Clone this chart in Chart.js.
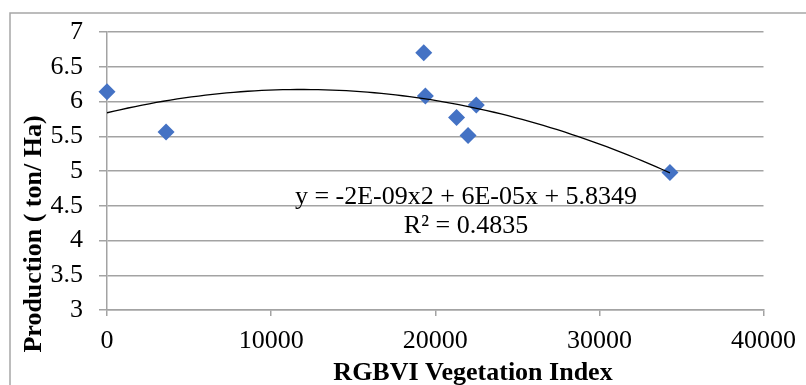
<!DOCTYPE html>
<html>
<head>
<meta charset="utf-8">
<script src="https://cdn.jsdelivr.net/npm/chart.js@4"></script>
<style>
  html, body { margin: 0; padding: 0; background: #fff; }
  #wrap { width: 806px; height: 385px; position: relative; }
</style>
</head>
<body>
<div id="wrap"><canvas id="chart"></canvas></div>
<script>
// values
const indexValues = [0, 3600, 19300, 19400, 21300, 22500, 22000, 34300];
const productionValues = [6.14, 5.56, 6.70, 6.08, 5.77, 5.95, 5.51, 4.98];
const xTicks = [0, 10000, 20000, 30000, 40000];
const yTicks = [3, 3.5, 4, 4.5, 5, 5.5, 6, 6.5, 7];
const xTitle = "RGBVI Vegetation Index";
const yTitle = "Production ( ton/ Ha)";
const equationLines = ["y = -2E-09x2 + 6E-05x + 5.8349", "R² = 0.4835"];

const SERIF = '"Liberation Serif", "Times New Roman", serif';
const GRID = "#a3a3a3";

// least squares quadratic, the same fit Excel uses for its trendline
function quadFit(xs, ys) {
  const k = 1e-4; // scale x to keep the sums small
  const s = [0, 0, 0, 0, 0];
  const t = [0, 0, 0];
  xs.forEach((x0, i) => {
    const x = x0 * k;
    for (let p = 0; p < 5; p++) s[p] += Math.pow(x, p);
    for (let p = 0; p < 3; p++) t[p] += Math.pow(x, p) * ys[i];
  });
  const m = [
    [s[0], s[1], s[2]],
    [s[1], s[2], s[3]],
    [s[2], s[3], s[4]],
  ];
  const det = (a) =>
    a[0][0] * (a[1][1] * a[2][2] - a[1][2] * a[2][1]) -
    a[0][1] * (a[1][0] * a[2][2] - a[1][2] * a[2][0]) +
    a[0][2] * (a[1][0] * a[2][1] - a[1][1] * a[2][0]);
  const d = det(m);
  const coef = [0, 1, 2].map((col) => {
    const mc = m.map((row, r) => row.map((v, c) => (c === col ? t[r] : v)));
    return det(mc) / d;
  });
  return (x) => coef[0] + coef[1] * x * k + coef[2] * x * k * x * k;
}

const fit = quadFit(indexValues, productionValues);
const xMin = Math.min(...indexValues);
const xMax = Math.max(...indexValues);
const trend = [];
for (let i = 0; i <= 80; i++) {
  const x = xMin + ((xMax - xMin) * i) / 80;
  trend.push({ x, y: fit(x) });
}

const textPlugin = {
  id: "texts",
  beforeDraw(chart) {
    const ctx = chart.ctx;
    ctx.save();
    ctx.strokeStyle = "#a6a6a6";
    ctx.lineWidth = 1.5;
    ctx.strokeRect(10, 13, 900, 500);
    ctx.restore();
  },
  afterDraw(chart) {
    const ctx = chart.ctx;
    ctx.save();
    ctx.fillStyle = "#000";
    ctx.textAlign = "center";
    ctx.textBaseline = "middle";

    ctx.font = "26px " + SERIF;
    ctx.fillText(equationLines[0], 466, 197);
    ctx.fillText(equationLines[1], 466, 226);

    ctx.font = "bold 26px " + SERIF;
    ctx.fillText(xTitle, 473, 373);

    ctx.translate(34, 234);
    ctx.rotate(-Math.PI / 2);
    ctx.fillText(yTitle, 0, 0);
    ctx.restore();
  },
};

new Chart(document.getElementById("chart"), {
  type: "scatter",
  data: {
    datasets: [
      {
        type: "line",
        data: trend,
        borderColor: "#000",
        borderWidth: 1.3,
        pointRadius: 0,
        fill: false,
        tension: 0,
        order: 0,
      },
      {
        data: indexValues.map((x, i) => ({ x, y: productionValues[i] })),
        pointStyle: "rectRot",
        pointRadius: 8.5,
        pointHoverRadius: 8.5,
        backgroundColor: "#4472c4",
        borderColor: "#4472c4",
        borderWidth: 0,
        clip: false,
        order: 1,
      },
    ],
  },
  options: {
    responsive: true,
    maintainAspectRatio: false,
    animation: false,
    layout: { padding: { top: 32, right: 39, left: 0, bottom: 0 } },
    plugins: { legend: { display: false }, tooltip: { enabled: false } },
    scales: {
      x: {
        type: "linear",
        min: xTicks[0],
        max: xTicks[xTicks.length - 1],
        afterBuildTicks: (s) => { s.ticks = xTicks.map((v) => ({ value: v })); },
        afterFit: (s) => { s.height = 75; },
        ticks: {
          color: "#000",
          font: { family: SERIF, size: 26 },
          padding: 10,
          maxRotation: 0,
          callback: (v) => String(v),
        },
        grid: { drawOnChartArea: false, drawTicks: true, tickLength: 6, color: GRID, lineWidth: 1.5 },
        border: { color: GRID, width: 1.5 },
      },
      y: {
        min: yTicks[0],
        max: yTicks[yTicks.length - 1],
        afterBuildTicks: (s) => { s.ticks = yTicks.map((v) => ({ value: v })); },
        afterFit: (s) => { s.width = 107; },
        ticks: {
          color: "#000",
          font: { family: SERIF, size: 26 },
          padding: 16,
          callback: (v) => String(v),
        },
        grid: { color: GRID, lineWidth: 1.5, tickLength: 8 },
        border: { color: GRID, width: 1.5 },
      },
    },
  },
  plugins: [textPlugin],
});
</script>
</body>
</html>
